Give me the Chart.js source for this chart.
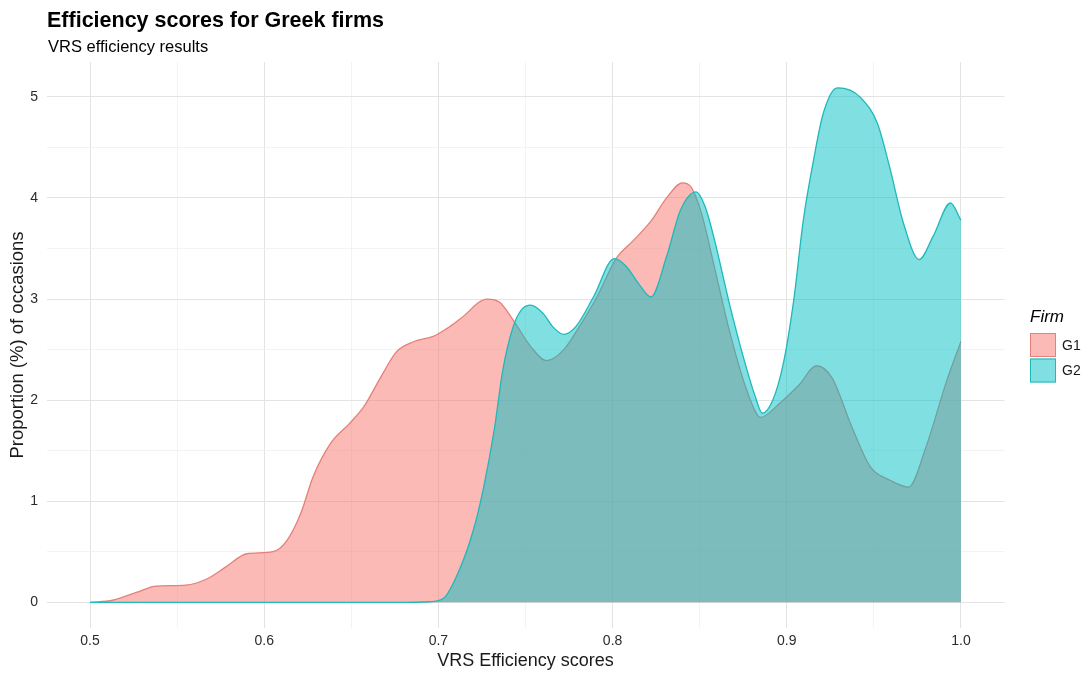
<!DOCTYPE html>
<html>
<head>
<meta charset="utf-8">
<script src="https://cdn.jsdelivr.net/npm/chart.js@4.4.1/dist/chart.umd.min.js"></script>
<style>
  html, body { margin: 0; padding: 0; background: #ffffff; }
  #wrap { width: 1088px; height: 674px; position: relative; }
  canvas { display: block; }
</style>
</head>
<body>
<div id="wrap"><canvas id="c" width="1088" height="674"></canvas></div>
<script>
// ---- Data ----
const g1X = [0.500, 0.513, 0.527, 0.538, 0.555, 0.567, 0.578, 0.590, 0.605, 0.613,
             0.621, 0.628, 0.638, 0.649, 0.657, 0.667, 0.676, 0.686, 0.697, 0.705,
             0.713, 0.728, 0.735, 0.743, 0.753, 0.762, 0.772, 0.781, 0.791, 0.802,
             0.812, 0.822, 0.831, 0.840, 0.845, 0.851, 0.858, 0.867, 0.877, 0.885,
             0.896, 0.907, 0.917, 0.926, 0.937, 0.948, 0.959, 0.970, 0.980, 0.992, 1.000];
const g1Y = [0.00, 0.02, 0.10, 0.16, 0.17, 0.23, 0.35, 0.48, 0.50, 0.61,
             0.88, 1.24, 1.57, 1.77, 1.93, 2.23, 2.48, 2.58, 2.63, 2.71,
             2.81, 3.00, 2.97, 2.79, 2.53, 2.39, 2.50, 2.73, 3.02, 3.40,
             3.58, 3.77, 4.00, 4.15, 4.11, 3.85, 3.35, 2.69, 2.10, 1.83,
             1.97, 2.15, 2.34, 2.22, 1.75, 1.34, 1.21, 1.14, 1.54, 2.20, 2.58];

const g2X = [0.500, 0.680, 0.695, 0.703, 0.712, 0.720, 0.726, 0.732, 0.737, 0.743,
             0.748, 0.753, 0.760, 0.766, 0.772, 0.779, 0.789, 0.801, 0.808, 0.815,
             0.822, 0.831, 0.839, 0.848, 0.853, 0.858, 0.867, 0.875, 0.882, 0.886,
             0.892, 0.898, 0.904, 0.9095, 0.915, 0.921, 0.929, 0.936, 0.942, 0.952,
             0.959, 0.967, 0.976, 0.984, 0.994, 1.000];
const g2Y = [0.00, 0.00, 0.005, 0.04, 0.32, 0.71, 1.14, 1.70, 2.30, 2.73,
             2.90, 2.94, 2.86, 2.72, 2.65, 2.73, 3.02, 3.40, 3.32, 3.15,
             3.02, 3.42, 3.88, 4.06, 3.92, 3.62, 2.96, 2.43, 2.03, 1.87,
             2.00, 2.36, 2.99, 3.78, 4.34, 4.84, 5.09, 5.07, 5.00, 4.74,
             4.31, 3.75, 3.39, 3.62, 3.95, 3.78];

const seriesNames = ['G1', 'G2'];
const xTicks = [0.5, 0.55, 0.6, 0.65, 0.7, 0.75, 0.8, 0.85, 0.9, 0.95, 1.0];
const yTicks = [0, 0.5, 1, 1.5, 2, 2.5, 3, 3.5, 4, 4.5, 5];
const titleText = 'Efficiency scores for Greek firms';
const subtitleText = 'VRS efficiency results';
const xTitle = 'VRS Efficiency scores';
const yTitle = 'Proportion (%) of occasions';
const legendTitle = 'Firm';

// ---- Styles ----
const FONT = '"Liberation Sans", Arial, Helvetica, sans-serif';
const fills = ['rgba(248,118,109,0.5)', 'rgba(0,191,196,0.5)'];
const lines = ['#e5807a', '#1fb8bb'];

const toPts = (xs, ys) => xs.map((x, i) => ({ x: x, y: ys[i] }));

const isMajor = v => Math.abs(v * 10 - Math.round(v * 10)) < 1e-6;

const overlay = {
  id: 'overlay',
  afterDraw(chart) {
    const ctx = chart.ctx;
    const left = chart.chartArea.left;
    ctx.save();
    ctx.fillStyle = '#000000';
    ctx.textAlign = 'left';
    ctx.textBaseline = 'alphabetic';
    ctx.font = 'bold 21.5px ' + FONT;
    ctx.fillText(titleText, left + 0.5, 27);
    ctx.font = '16.5px ' + FONT;
    ctx.fillText(subtitleText, left + 1.5, 52);

    // legend
    const lx = 1030;
    ctx.font = 'italic 17px ' + FONT;
    ctx.fillStyle = '#000000';
    ctx.fillText(legendTitle, lx, 322);
    const boxW = 26, boxH = 24;
    const tops = [333, 358.5];
    ctx.font = '14px ' + FONT;
    chart.data.datasets.forEach((ds, i) => {
      const y0 = tops[i];
      ctx.fillStyle = '#ffffff';
      ctx.fillRect(lx, y0, boxW, boxH);
      ctx.fillStyle = ds.backgroundColor;
      ctx.fillRect(lx, y0, boxW, boxH);
      ctx.strokeStyle = ds.borderColor;
      ctx.lineWidth = 1;
      ctx.strokeRect(lx + 0.5, y0 + 0.5, boxW - 1, boxH - 1);
      ctx.fillStyle = '#1a1a1a';
      ctx.textBaseline = 'middle';
      ctx.fillText(ds.label, lx + 32, y0 + boxH / 2 + 1);
      ctx.textBaseline = 'alphabetic';
    });
    ctx.restore();
  }
};

new Chart(document.getElementById('c'), {
  type: 'line',
  data: {
    datasets: [
      {
        label: seriesNames[0],
        data: toPts(g1X, g1Y),
        backgroundColor: fills[0],
        borderColor: lines[0],
        borderWidth: 1.3,
        fill: 'origin',
        pointRadius: 0,
        cubicInterpolationMode: 'monotone',
        order: 2
      },
      {
        label: seriesNames[1],
        data: toPts(g2X, g2Y),
        backgroundColor: fills[1],
        borderColor: lines[1],
        borderWidth: 1.3,
        fill: 'origin',
        pointRadius: 0,
        cubicInterpolationMode: 'monotone',
        order: 1
      }
    ]
  },
  options: {
    responsive: false,
    animation: false,
    devicePixelRatio: 1,
    layout: { padding: { left: 0, right: 83.5, top: 62, bottom: 0 } },
    plugins: {
      legend: { display: false },
      tooltip: { enabled: false },
      title: { display: false }
    },
    scales: {
      x: {
        type: 'linear',
        min: 0.475,
        max: 1.025,
        afterBuildTicks: s => { s.ticks = xTicks.map(v => ({ value: v })); },
        afterFit: s => { s.height = 46; },
        border: { display: false },
        grid: {
          drawTicks: false,
          color: c => (c.tick && isMajor(c.tick.value)) ? '#e3e3e3' : '#f0f0f0',
          lineWidth: c => (c.tick && isMajor(c.tick.value)) ? 1 : 0.8
        },
        ticks: {
          padding: 5,
          color: '#2b2b2b',
          font: { family: FONT, size: 14 },
          maxRotation: 0,
          autoSkip: false,
          callback: v => isMajor(v) ? Number(v).toFixed(1) : ''
        },
        title: {
          display: true,
          text: xTitle,
          color: '#1a1a1a',
          font: { family: FONT, size: 18 },
          padding: { top: 0, bottom: 2.2 }
        }
      },
      y: {
        type: 'linear',
        min: -0.2545,
        max: 5.345,
        afterBuildTicks: s => { s.ticks = yTicks.map(v => ({ value: v })); },
        afterFit: s => { s.width = 46.5; },
        border: { display: false },
        grid: {
          drawTicks: false,
          color: c => (c.tick && Number.isInteger(c.tick.value)) ? '#e3e3e3' : '#f0f0f0',
          lineWidth: c => (c.tick && Number.isInteger(c.tick.value)) ? 1 : 0.8
        },
        ticks: {
          padding: 8.5,
          color: '#2b2b2b',
          font: { family: FONT, size: 14 },
          autoSkip: false,
          callback: v => Number.isInteger(v) ? String(v) : ''
        },
        title: {
          display: true,
          text: yTitle,
          color: '#1a1a1a',
          font: { family: FONT, size: 18.5 },
          padding: { top: 6.5, bottom: 0 }
        }
      }
    }
  },
  plugins: [overlay]
});
</script>
</body>
</html>
